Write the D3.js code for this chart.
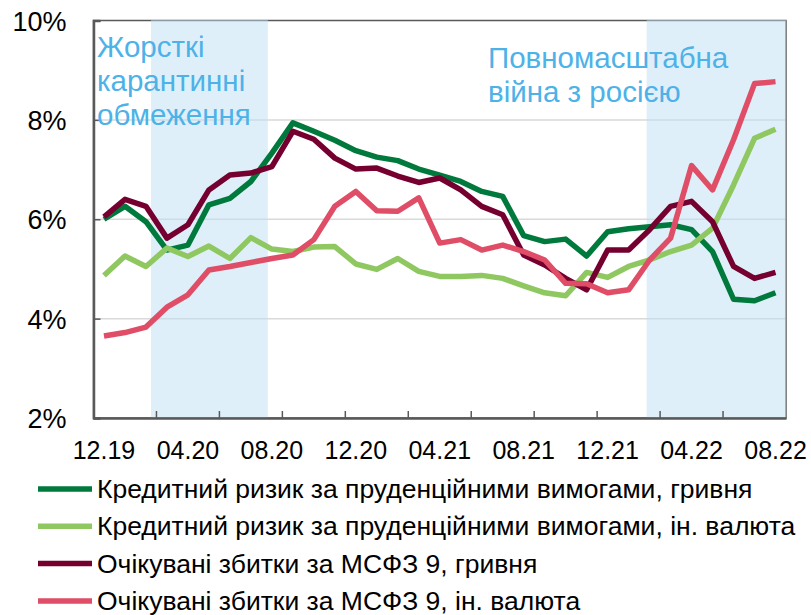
<!DOCTYPE html>
<html><head><meta charset="utf-8">
<script src="https://cdn.jsdelivr.net/npm/d3@7"></script>
<style>body{margin:0;background:#fff;}svg{display:block;font-family:"Liberation Sans",Arial,sans-serif;}</style>
</head><body><svg id="c" width="811" height="615"></svg>
<script>
const months = ["12.19","01.20","02.20","03.20","04.20","05.20","06.20","07.20","08.20","09.20","10.20","11.20",
"12.20","01.21","02.21","03.21","04.21","05.21","06.21","07.21","08.21","09.21","10.21","11.21",
"12.21","01.22","02.22","03.22","04.22","05.22","06.22","07.22","08.22"];
const tickLabels = ["12.19","04.20","08.20","12.20","04.21","08.21","12.21","04.22","08.22"];
const yTicks = [2,4,6,8,10];

const creditUAH = [6.0,6.26,5.95,5.38,5.48,6.29,6.42,6.76,7.33,7.94,7.77,7.59,7.38,7.25,7.18,7.01,6.89,6.76,6.56,6.46,5.67,5.55,5.60,5.26,5.75,5.81,5.85,5.89,5.79,5.35,4.39,4.36,4.52];
const creditFX  = [4.87,5.26,5.05,5.42,5.25,5.46,5.21,5.63,5.40,5.35,5.44,5.45,5.10,4.99,5.21,4.95,4.85,4.85,4.87,4.81,4.66,4.52,4.46,4.93,4.83,5.05,5.18,5.35,5.48,5.82,6.69,7.63,7.81];
const lossUAH   = [6.05,6.40,6.26,5.62,5.89,6.59,6.89,6.93,7.06,7.77,7.61,7.23,7.01,7.03,6.87,6.74,6.83,6.59,6.26,6.09,5.28,5.08,4.81,4.58,5.38,5.38,5.79,6.26,6.36,5.95,5.05,4.81,4.93];
const lossFX    = [3.65,3.72,3.83,4.23,4.48,4.98,5.05,5.13,5.21,5.28,5.59,6.26,6.56,6.17,6.16,6.43,5.52,5.59,5.38,5.48,5.35,5.18,4.71,4.70,4.52,4.58,5.18,5.62,7.08,6.59,7.60,8.73,8.77];

const seriesNames = ["Кредитний ризик за пруденційними вимогами, гривня",
 "Кредитний ризик за пруденційними вимогами, ін. валюта",
 "Очікувані збитки за МСФЗ 9, гривня",
 "Очікувані збитки за МСФЗ 9, ін. валюта"];
const seriesValues = [creditUAH, creditFX, lossUAH, lossFX];
const seriesColors = ["#00793d","#8fc860","#750030","#df4d66"];

// shaded periods, in fractional month index
const shadeFrom = [2.24, 25.86];
const shadeTo   = [7.81, 32.5];
const shadeText = [["Жорсткі","карантинні","обмеження"],["Повномасштабна","війна з росією"]];

const svg = d3.select("#c");
const L=93.5, R=786, T=20.5, B=418;
const x = d3.scaleLinear().domain([-0.5, months.length-0.5]).range([L,R]);
const y = d3.scaleLinear().domain([2,10]).range([B,T]);

// gridlines
svg.append("g").selectAll("line").data(yTicks.filter(v=>v>2&&v<10)).join("line")
  .attr("x1",L).attr("x2",R).attr("y1",d=>y(d)).attr("y2",d=>y(d))
  .attr("stroke","#d9d9d9").attr("stroke-width",1.5);

// frame
svg.append("rect").attr("x",L).attr("y",T).attr("width",R-L).attr("height",B-T)
  .attr("fill","none").attr("stroke","#595959").attr("stroke-width",1.5);

// shades
svg.append("g").selectAll("rect").data(shadeFrom).join("rect")
  .attr("x",(d)=>x(d)).attr("y",T-1).attr("width",(d,i)=>x(shadeTo[i])-x(d)).attr("height",B-T+1)
  .attr("fill","#bfe0f4").attr("opacity",0.5);

// axes
const yAxis = d3.axisLeft(y).tickValues(yTicks).tickSize(-7).tickFormat(d=>d+"%");
const gy = svg.append("g").attr("transform",`translate(${L},0)`).call(yAxis);
gy.select(".domain").attr("stroke","#595959").attr("stroke-width",2.5);
gy.selectAll(".tick line").attr("stroke","#595959").attr("stroke-width",1.5);
gy.selectAll(".tick text").attr("x",-27).attr("dy","0.36em").attr("font-size",27).attr("fill","#000").attr("font-family","Liberation Sans, Arial");

const xb = d3.scaleBand().domain(months).range([L,R]);
const xAxis = d3.axisBottom(xb).tickValues(tickLabels).tickSize(0).tickPadding(23);
const gx = svg.append("g").attr("transform",`translate(0,${B})`).call(xAxis);
gx.select(".domain").attr("stroke","#595959").attr("stroke-width",2.5);
gx.selectAll(".tick text").attr("font-size",25).attr("fill","#000").attr("font-family","Liberation Sans, Arial");
// minor tick marks every 3 months (category boundaries)
const tickIdx = d3.range(3, months.length, 3);
svg.append("g").selectAll("line").data(tickIdx).join("line")
  .attr("x1",d=>x(d-0.5)).attr("x2",d=>x(d-0.5)).attr("y1",B).attr("y2",B-7)
  .attr("stroke","#595959").attr("stroke-width",1.5);

// annotation texts
const ann = svg.append("g").attr("fill","#4db2e8").attr("font-size",29.5);
shadeText[0].forEach((t,i)=>ann.append("text").attr("x",97).attr("y",57+i*34).text(t));
shadeText[1].forEach((t,i)=>ann.append("text").attr("x",488).attr("y",68+i*34).text(t));

// lines
const line = d3.line().x((d,i)=>x(i)).y(d=>y(d));
svg.append("g").selectAll("path").data(seriesValues).join("path")
  .attr("d",line).attr("fill","none").attr("stroke",(d,i)=>seriesColors[i])
  .attr("stroke-width",5.5).attr("stroke-linejoin","round");

// legend
const lg = svg.append("g").selectAll("g").data(seriesNames).join("g")
  .attr("transform",(d,i)=>`translate(0,${489+i*37.3})`);
lg.append("line").attr("x1",38).attr("x2",92).attr("stroke",(d,i)=>seriesColors[i]).attr("stroke-width",5.5);
lg.append("text").attr("x",97).attr("y",9).attr("font-size",26.5).attr("fill","#000").text(d=>d);
</script></body></html>
